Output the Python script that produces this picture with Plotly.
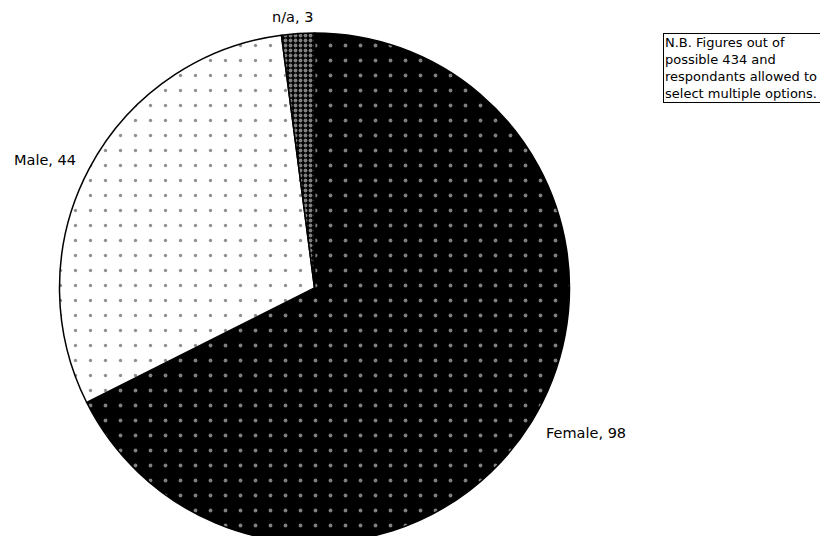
import plotly.graph_objects as go

labels = ["Female", "Male", "n/a"]
values = [98, 44, 3]
bg_colors = ["#000000", "#ffffff", "#000000"]
fg_colors = ["#ffffff", "#222222", "#ffffff"]
pattern_sizes = [15, 15, 5]
pattern_solidity = [0.05, 0.04, 0.45]
note_text = "N.B. Figures out of<br>possible 434 and<br>respondants allowed to<br>select multiple options."

W, H = 828, 536
OFF = 8  # page body margin offset
font = "DejaVu Sans"

cx, cy, r = 314.5 - OFF, 288 - OFF, 255

fig = go.Figure()
fig.add_trace(go.Pie(
    labels=labels, values=values, sort=False, direction="clockwise", rotation=0,
    textinfo="none", hoverinfo="label+value", showlegend=False,
    marker=dict(colors=bg_colors, line=dict(color="black", width=1.5),
                pattern=dict(shape=[".", ".", "."], fgcolor=fg_colors, bgcolor=bg_colors,
                             size=pattern_sizes, solidity=pattern_solidity, fillmode="overlay")),
    domain=dict(x=[(cx - r) / W, (cx + r) / W],
                y=[max(0, (H - cy - r) / H), (H - cy + r) / H]),
))

# slice labels (centers in page pixels)
label_pos = [(586, 433), (45, 160), (292, 17)]
for (lab, val), (px, py) in zip(zip(labels, values), label_pos):
    fig.add_annotation(x=(px - OFF) / W, y=1 - (py - OFF) / H, xref="paper", yref="paper",
                       xanchor="center", yanchor="middle",
                       text=f"{lab}, {val}", showarrow=False,
                       font=dict(family=font, size=14.5, color="black"))

fig.add_annotation(x=(663 - OFF) / W, y=1 - (33 - OFF) / H, xref="paper", yref="paper",
                   xanchor="left", yanchor="top", align="left", text=note_text,
                   showarrow=False, bordercolor="black", borderwidth=1, borderpad=1,
                   width=158, font=dict(family=font, size=13, color="black"))

fig.update_layout(width=W, height=H, margin=dict(l=0, r=0, t=0, b=0),
                  paper_bgcolor="white", plot_bgcolor="white")
fig.write_html("out.html")
